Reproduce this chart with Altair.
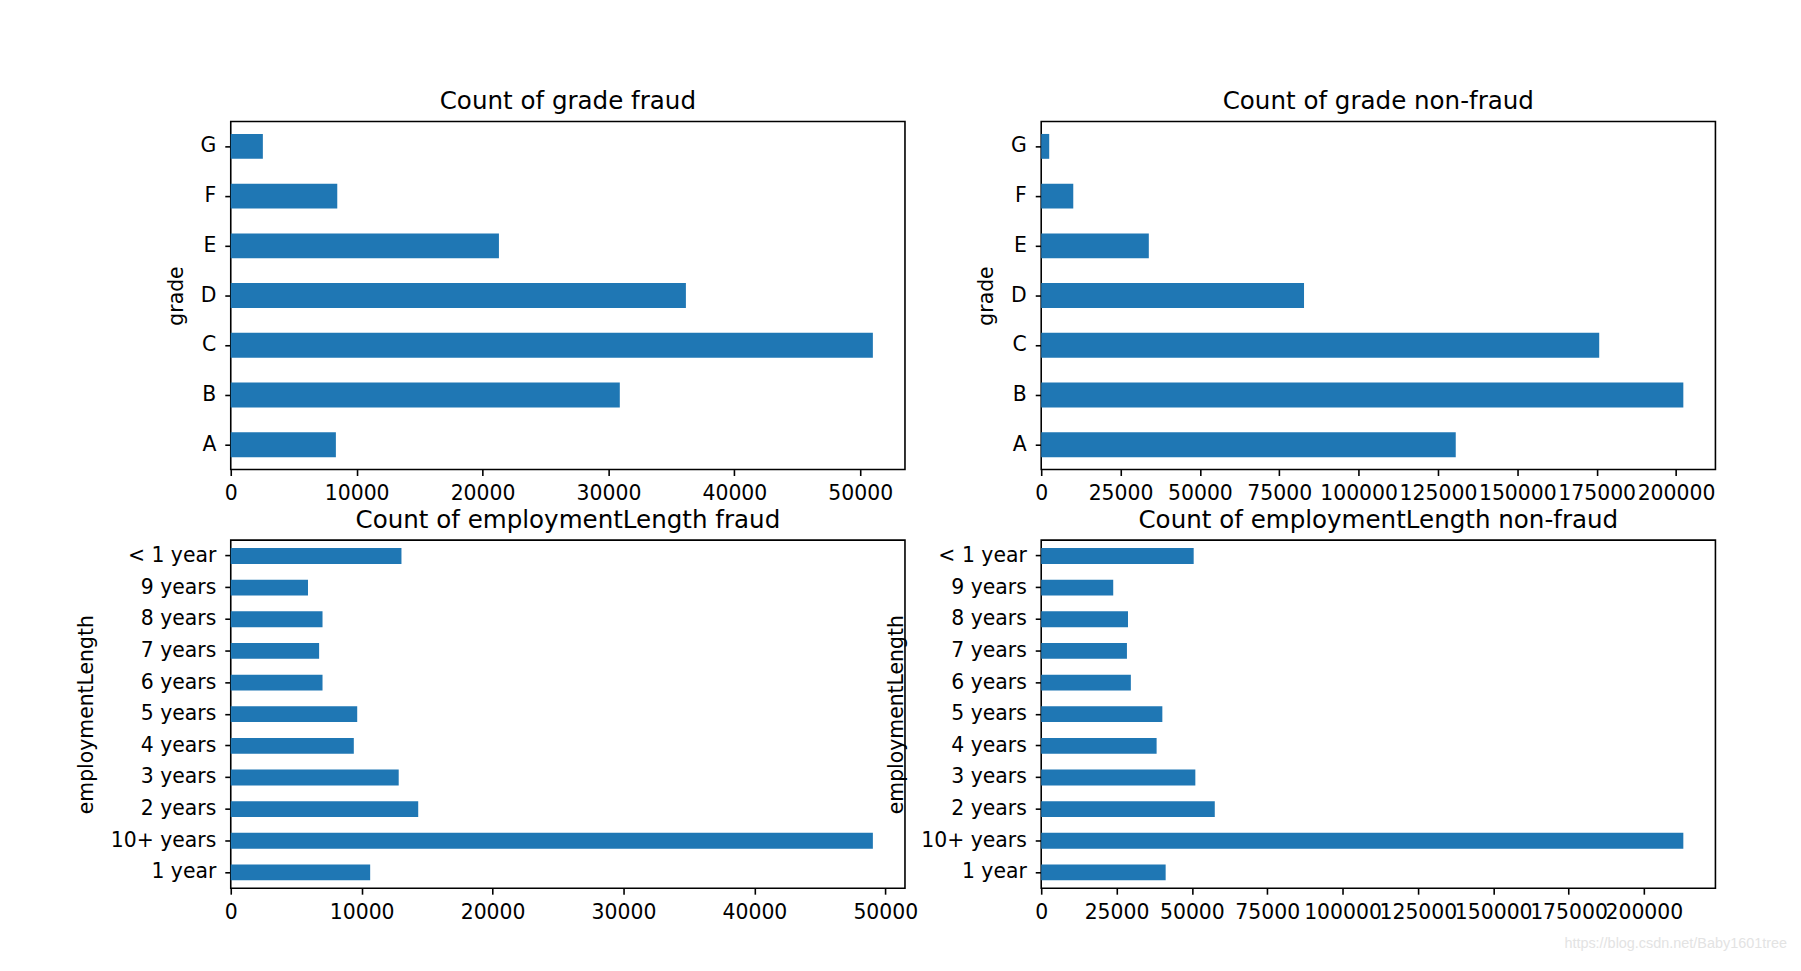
import altair as alt
import pandas as pd

grades = ["A", "B", "C", "D", "E", "F", "G"]
grade_fraud = [8350, 30900, 51000, 36150, 21300, 8460, 2550]
grade_nonfraud = [130600, 202300, 175800, 82800, 33900, 10100, 2520]

emp_levels = ["1 year", "10+ years", "2 years", "3 years", "4 years", "5 years",
              "6 years", "7 years", "8 years", "9 years", "< 1 year"]
emp_fraud = [10650, 49050, 14320, 12830, 9400, 9660, 7010, 6750, 7010, 5900, 13040]
emp_nonfraud = [41300, 213100, 57600, 51150, 38300, 40200, 29750, 28450, 28800, 23900, 50600]

fraud_ticks = [0, 10000, 20000, 30000, 40000, 50000]
nonfraud_ticks = [0, 25000, 50000, 75000, 100000, 125000, 150000, 175000, 200000]

FONT = "DejaVu Sans"
BAR = "#1f77b4"
W, H = 678, 350
LBL = 20.5


def panel(cats, vals, field, title, ticks):
    df = pd.DataFrame({field: cats, "count": vals})
    top = max(vals) * 1.05
    base = alt.Chart(df).mark_bar(color=BAR).encode(
        x=alt.X("count:Q",
                scale=alt.Scale(domain=[0, top], nice=False, zero=True),
                axis=alt.Axis(values=ticks, format="d", title=None, grid=False,
                              labelFont=FONT, labelFontSize=LBL, labelColor="#000",
                              tickColor="#000", tickWidth=1.6, tickSize=6,
                              labelPadding=8, domain=False, labelFlush=False,
                              labelOverlap=False)),
        y=alt.Y(f"{field}:N", sort=list(reversed(cats)),
                scale=alt.Scale(paddingInner=0.5, paddingOuter=0.25),
                axis=alt.Axis(title=field, titleFont=FONT, titleFontSize=LBL,
                              titleFontWeight="normal", titleColor="#000",
                              titlePadding=14,
                              labelFont=FONT, labelFontSize=LBL, labelColor="#000",
                              tickColor="#000", tickWidth=1.6, tickSize=6,
                              labelPadding=9, domain=False, grid=False)),
    ).properties(
        width=W, height=H,
        title=alt.TitleParams(title, font=FONT, fontSize=24.7, fontWeight="normal",
                              color="#000", offset=8),
    )
    return base


p1 = panel(grades, grade_fraud, "grade", "Count of grade fraud", fraud_ticks)
p2 = panel(grades, grade_nonfraud, "grade", "Count of grade non-fraud", nonfraud_ticks)
p3 = panel(emp_levels, emp_fraud, "employmentLength", "Count of employmentLength fraud", fraud_ticks)
p4base = panel(emp_levels, emp_nonfraud, "employmentLength", "Count of employmentLength non-fraud", nonfraud_ticks)

wm = alt.Chart(pd.DataFrame({"t": ["https://blog.csdn.net/Baby1601tree"]})).mark_text(
    align="right", baseline="middle", font="Liberation Sans", fontSize=14.5, color="#e3e3e3"
).encode(text="t:N", x=alt.value(W + 72), y=alt.value(H + 56.5))

p4 = alt.layer(p4base, wm)

chart = alt.concat(p1, p2, p3, p4, columns=2,
                   spacing=alt.RowColnumber(row=71, column=137),
                   bounds="flush").properties(
    padding={"left": 68, "top": 77.5, "right": 5, "bottom": 0}
).configure(background="white").configure_view(stroke="#000", strokeWidth=1.6)

chart.save("out.html", embed_options={"renderer": "svg", "actions": False})
